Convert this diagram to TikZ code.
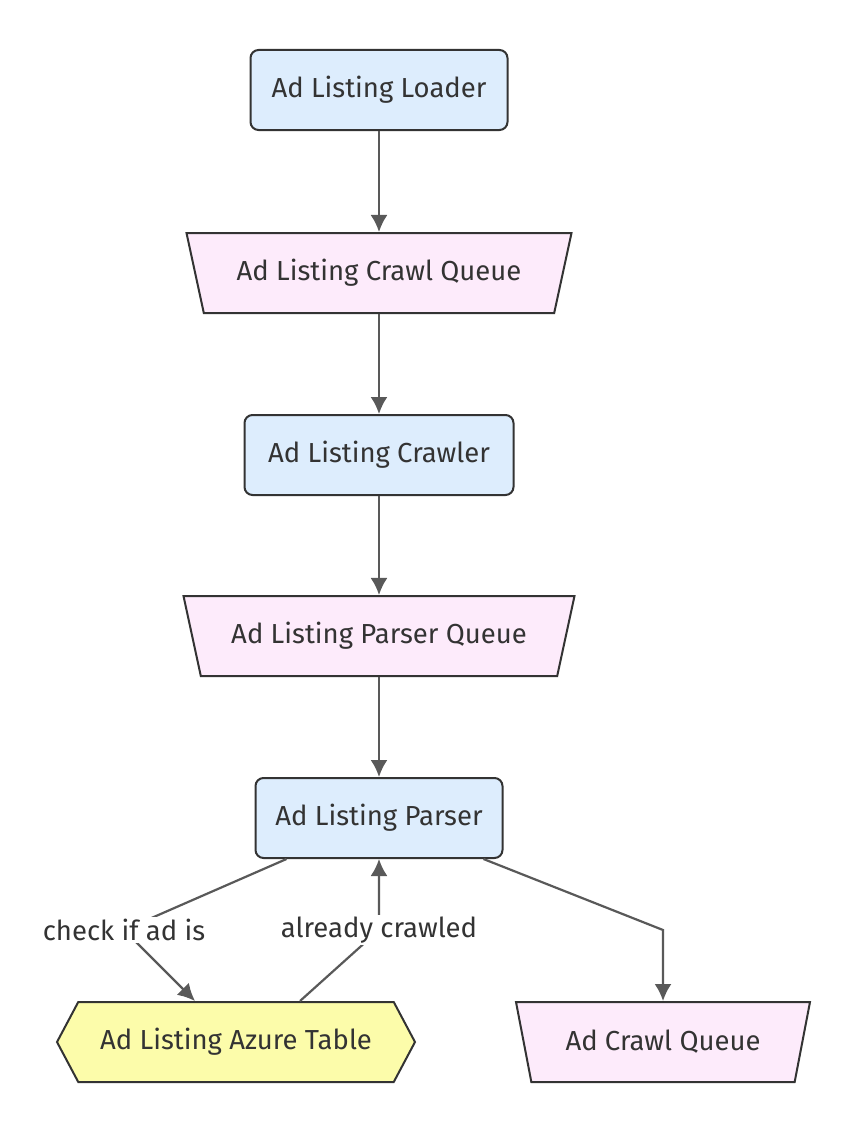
\documentclass[tikz,border=0pt]{standalone}
\usepackage{fontspec}
\setmainfont{Fira Sans}
\usepackage{tikz}
\usetikzlibrary{shapes.geometric, shapes.symbols, positioning}
\usetikzlibrary{arrows.meta}
\tikzset{>={Latex[width=17pt,length=17pt]}}
\definecolor{procfill}{HTML}{DDEDFD}
\definecolor{queuefill}{HTML}{FDEBFB}
\definecolor{tablefill}{HTML}{FCFCAA}
\definecolor{inkline}{HTML}{333333}
\definecolor{edgeline}{HTML}{595959}

\begin{document}
\begin{tikzpicture}[x=1pt, y=-1pt, font=\fontsize{27.5}{32}\selectfont, text=inkline]
% Define styles
\tikzstyle{proc} = [rectangle, rounded corners=8pt, draw=inkline, line width=2pt, fill=procfill, minimum height=80pt]
\tikzstyle{queue} = [trapezium, shape border rotate=180, trapezium angle=63, trapezium stretches body, draw=inkline, line width=2pt, fill=queuefill, minimum height=80pt]
\tikzstyle{store} = [signal, signal to=west and east, signal pointer angle=124, draw=inkline, line width=2pt, fill=tablefill, minimum height=80pt]
\tikzstyle{edge} = [draw=edgeline, line width=2.2pt]
\tikzstyle{lbl} = [fill=white, inner sep=2pt]
\useasboundingbox (0,0) rectangle (842,1148);
% Define nodes
\node[proc, minimum width=257pt] (loader) at (379,90) {Ad Listing Loader};
\node[queue, minimum width=385pt] (crawlq) at (379,273) {Ad Listing Crawl Queue};
\node[proc, minimum width=269pt] (crawler) at (379,455) {Ad Listing Crawler};
\node[queue, minimum width=391pt] (parserq) at (379,636) {Ad Listing Parser Queue};
\node[proc, minimum width=247pt] (parser) at (379,818) {Ad Listing Parser};
\node[store, minimum width=358pt] (azure) at (236,1042) {Ad Listing Azure Table};
\node[queue, minimum width=294pt] (adq) at (663,1042) {Ad Crawl Queue};
% Connect the nodes
\draw[edge, ->] (loader) -- (crawlq);
\draw[edge, ->] (crawlq) -- (crawler);
\draw[edge, ->] (crawler) -- (parserq);
\draw[edge, ->] (parserq) -- (parser);
\coordinate (check) at (124,930);
\coordinate (crawled) at (379,930);
\coordinate (bend) at (663,930);
\draw[edge, ->] ([xshift=32pt]parser.south west) -- (check) -- ([xshift=-41pt]azure.north);
\draw[edge, ->] ([xshift=64pt]azure.north) -- (crawled) -- (parser.south);
\draw[edge, ->] ([xshift=-20pt]parser.south east) -- (bend) -- (adq.north);
% Labels on top
\node[lbl] (checklbl) at (check) {check if ad is};
\node[lbl] (crawledlbl) at (crawled) {already crawled};
\end{tikzpicture}
\end{document}
